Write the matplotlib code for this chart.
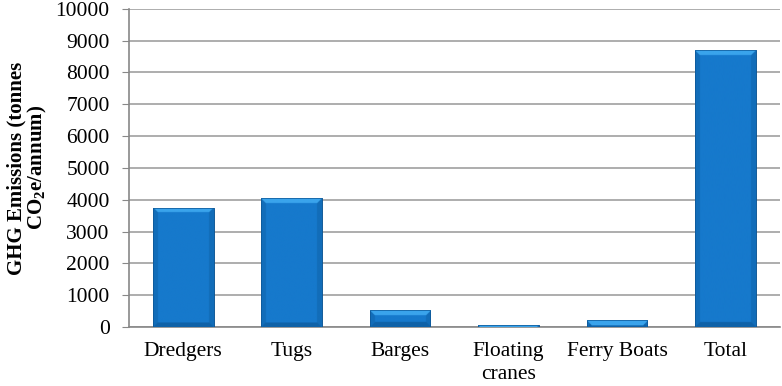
import numpy as np
import matplotlib.pyplot as plt
from matplotlib.colors import to_rgb

categories = ["Dredgers", "Tugs", "Barges", "Floating\ncranes", "Ferry Boats", "Total"]
emissions = [3750, 4050, 520, 70, 220, 8700]
yticks = [0, 1000, 2000, 3000, 4000, 5000, 6000, 7000, 8000, 9000, 10000]

plt.rcParams["font.family"] = ["Liberation Serif", "DejaVu Serif"]
plt.rcParams["mathtext.default"] = "regular"

W, H = 7.82, 3.86
fig = plt.figure(figsize=(W, H), dpi=100)
ax = fig.add_axes([0.165, 0.153, 0.832, 0.824])
ax.set_xlim(-0.5, len(categories) - 0.5)
ax.set_ylim(0, 10000)

x = np.arange(len(categories))
width = 0.56
bars = ax.bar(x, emissions, width=width, color="#1477c9", edgecolor="#0d5593",
              linewidth=0.5, zorder=3)

# bevelled look: light top edge, slightly darker sides and bottom
px_x = 0.832 * W * 100 / len(categories)   # pixels per category
px_y = 0.824 * H * 100 / 10000             # pixels per data unit
face = np.array(to_rgb("#1679cc"))
top_c = np.array(to_rgb("#3aa4ec"))
side_c = np.array(to_rgb("#126db9"))
bot_c = np.array(to_rgb("#0f62a8"))
bev = 5.0
for b in bars:
    x0, w, h = b.get_x(), b.get_width(), b.get_height()
    nx = max(int(w * px_x * 2), 2)
    ny = max(int(h * px_y * 2), 2)
    xs = (np.arange(nx) + 0.5) / 2
    ys = (np.arange(ny) + 0.5) / 2
    X, Y = np.meshgrid(xs, ys)
    dl, dr = X, w * px_x - X
    dt, db = Y, h * px_y - Y
    ds = np.minimum(dl, dr)
    img = np.tile(face, (ny, nx, 1))
    m_side = (ds < bev) & (ds < dt) & (ds < db)
    m_top = (dt < bev) & (dt <= ds)
    m_bot = (db < bev) & (db <= ds) & ~m_top
    img[m_side] = side_c
    img[m_bot] = bot_c
    img[m_top] = top_c
    img = np.clip(img, 0, 1)
    im = ax.imshow(img, aspect="auto", extent=[x0, x0 + w, 0, h], zorder=3.5,
                   interpolation="bilinear")
    im.set_clip_path(b)
    ax.bar(b.get_x() + w / 2, h, width=w, fill=False, edgecolor="#0d5593",
           linewidth=0.5, zorder=4)

ax.set_xlim(-0.5, len(categories) - 0.5)
ax.set_ylim(0, 10000)
ax.set_yticks(yticks)
ax.set_xticks(x)
ax.set_xticklabels(categories, fontsize=15.5, linespacing=1.25)
ax.tick_params(axis="y", labelsize=15.5, length=5, color="#888888", pad=9)
ax.tick_params(axis="x", length=0, pad=11)
ax.yaxis.grid(True, color="#a0a0a0", linewidth=1.2, zorder=0)
ax.set_axisbelow(True)
for s in ["top", "right"]:
    ax.spines[s].set_visible(False)
for s in ["left", "bottom"]:
    ax.spines[s].set_color("#888888")
    ax.spines[s].set_linewidth(1.2)

ax.set_ylabel("GHG Emissions (tonnes\nCO$_2$e/annum)", fontsize=15, fontweight="bold",
              linespacing=0.95, labelpad=5)

fig.savefig("out.png", dpi=100)
